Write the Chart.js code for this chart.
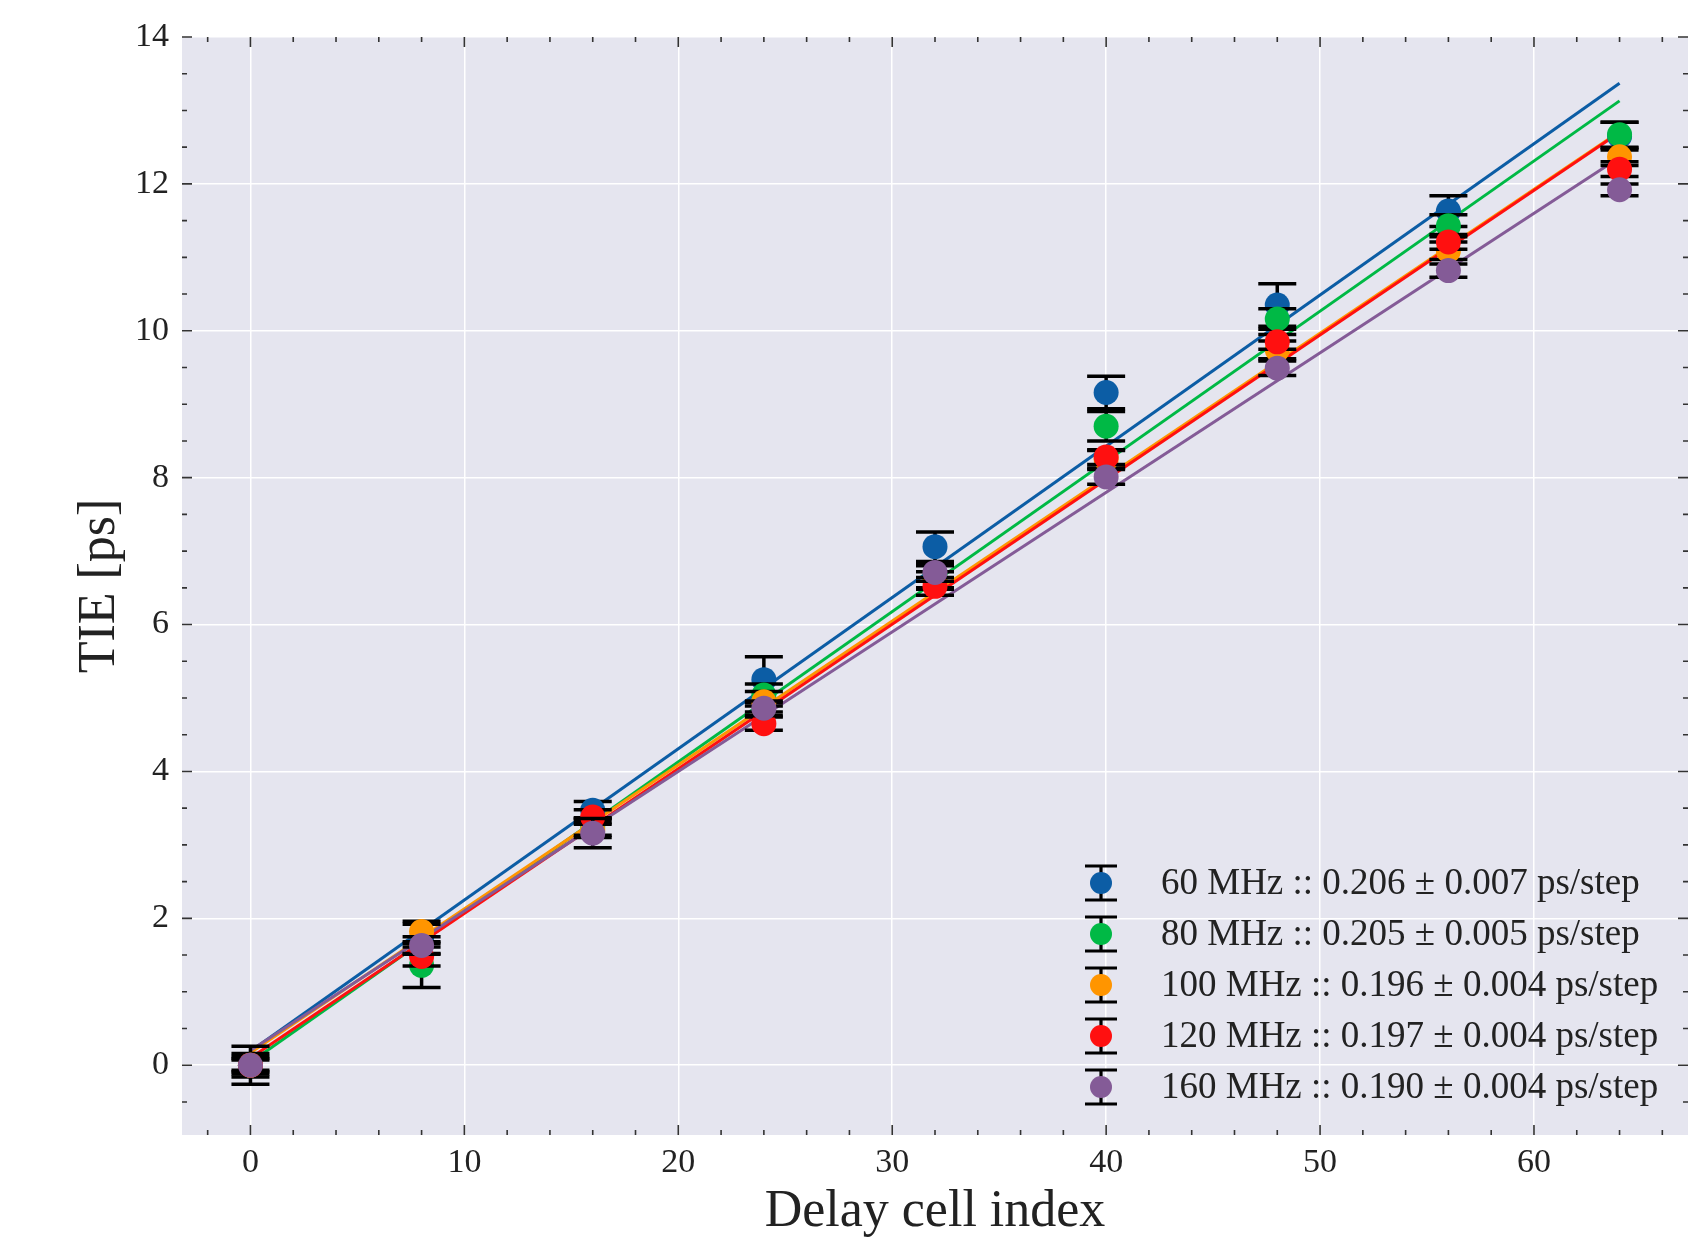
<!DOCTYPE html>
<html>
<head>
<meta charset="utf-8">
<script src="https://cdn.jsdelivr.net/npm/chart.js@4.4.1/dist/chart.umd.min.js"></script>
<style>
html, body { margin: 0; padding: 0; background: #fff; }
#contenedor { width: 1708px; height: 1238px; }
</style>
</head>
<body>
<div id="contenedor"><canvas id="graficoTIE"></canvas></div>
<script>
// Indices de celda medidos
const celdas = [0, 8, 16, 24, 32, 40, 48, 56, 64];

// TIE medido [ps] por frecuencia
const tie60  = [0.00, 1.72, 3.47, 5.25, 7.06, 9.16, 10.35, 11.63, 12.65];
const tie80  = [0.00, 1.36, 3.25, 5.04, 6.65, 8.70, 10.16, 11.43, 12.67];
const tie100 = [0.00, 1.82, 3.20, 4.95, 6.60, 8.25, 9.74, 11.09, 12.37];
const tie120 = [0.00, 1.48, 3.38, 4.65, 6.52, 8.28, 9.85, 11.21, 12.20];
const tie160 = [0.00, 1.63, 3.16, 4.86, 6.71, 8.01, 9.49, 10.82, 11.92];

// Barras de error [ps]
const err60  = [0.26, 0.20, 0.12, 0.31, 0.20, 0.22, 0.29, 0.21, 0.19];
const err80  = [0.16, 0.30, 0.12, 0.15, 0.15, 0.20, 0.14, 0.15, 0.17];
const err100 = [0.12, 0.14, 0.10, 0.14, 0.12, 0.12, 0.12, 0.12, 0.12];
const err120 = [0.09, 0.13, 0.10, 0.09, 0.12, 0.10, 0.10, 0.10, 0.10];
const err160 = [0.07, 0.12, 0.20, 0.10, 0.12, 0.10, 0.10, 0.09, 0.08];

// Rectas de ajuste: valor en la celda 0 y en la celda 64
const ajusteX = [0, 64];
const ajusteInicio = [0.19, 0.04, 0.17, 0.10, 0.20];
const ajusteFin    = [13.37, 13.13, 12.71, 12.70, 12.36];

const etiquetas = [
    '60 MHz :: 0.206 \u00b1 0.007 ps/step',
    '80 MHz :: 0.205 \u00b1 0.005 ps/step',
    '100 MHz :: 0.196 \u00b1 0.004 ps/step',
    '120 MHz :: 0.197 \u00b1 0.004 ps/step',
    '160 MHz :: 0.190 \u00b1 0.004 ps/step'
];
const colores = ['#0C5DA5', '#00B945', '#FF9500', '#FF1010', '#845B97'];

// Ticks de los ejes
const ticksX = [0, 10, 20, 30, 40, 50, 60];
const ticksY = [0, 2, 4, 6, 8, 10, 12, 14];

const series = [tie60, tie80, tie100, tie120, tie160];
const errores = [err60, err80, err100, err120, err160];

const fuente = '"Liberation Serif", "DejaVu Serif", serif';
const colorTexto = '#222222';

let datasets = [];
// rectas primero (quedan debajo)
series.forEach((s, i) => {
    datasets.push({
        type: 'line',
        label: 'ajuste ' + etiquetas[i],
        data: ajusteX.map((x, k) => ({ x: x, y: k == 0 ? ajusteInicio[i] : ajusteFin[i] })),
        borderColor: colores[i],
        borderWidth: 3,
        pointRadius: 0,
        fill: false,
        order: 20 - i
    });
});
// puntos medidos
series.forEach((s, i) => {
    datasets.push({
        type: 'scatter',
        label: etiquetas[i],
        data: celdas.map((c, k) => ({ x: c, y: s[k] })),
        errores: errores[i],
        backgroundColor: colores[i],
        borderColor: colores[i],
        borderWidth: 0,
        pointRadius: 12.5,
        pointHoverRadius: 12.5,
        order: 5 - i
    });
});

// fondo del area de grafico
const fondoPlugin = {
    id: 'fondo',
    beforeDraw(chart) {
        const { ctx, chartArea: a } = chart;
        ctx.save();
        ctx.fillStyle = '#E5E5EF';
        ctx.fillRect(a.left, a.top, a.right - a.left, a.bottom - a.top);
        ctx.restore();
    }
};

// barras de error, dibujadas antes de los puntos de cada serie
const erroresPlugin = {
    id: 'barrasError',
    beforeDatasetDraw(chart, args) {
        const ds = chart.data.datasets[args.index];
        if (!ds.errores) return;
        const { ctx, scales } = chart;
        ctx.save();
        ctx.strokeStyle = '#000';
        ctx.lineWidth = 3.5;
        ds.data.forEach((p, k) => {
            const px = scales.x.getPixelForValue(p.x);
            const y1 = scales.y.getPixelForValue(p.y - ds.errores[k]);
            const y2 = scales.y.getPixelForValue(p.y + ds.errores[k]);
            ctx.beginPath();
            ctx.moveTo(px, y1); ctx.lineTo(px, y2);
            ctx.moveTo(px - 19, y1); ctx.lineTo(px + 19, y1);
            ctx.moveTo(px - 19, y2); ctx.lineTo(px + 19, y2);
            ctx.stroke();
        });
        ctx.restore();
    }
};

// ticks hacia dentro en los cuatro lados + leyenda
const marcasPlugin = {
    id: 'marcas',
    afterDraw(chart) {
        const { ctx, chartArea: a, scales } = chart;
        ctx.save();
        ctx.strokeStyle = '#333';
        ctx.lineWidth = 1.6;
        ctx.beginPath();
        for (let v = -2; v <= 66; v += 2) {
            const px = scales.x.getPixelForValue(v);
            const largo = v % 10 == 0 ? 10 : 5;
            ctx.moveTo(px, a.bottom); ctx.lineTo(px, a.bottom - largo);
            ctx.moveTo(px, a.top); ctx.lineTo(px, a.top + largo);
        }
        for (let v = -0.5; v <= 14; v += 0.5) {
            const py = scales.y.getPixelForValue(v);
            const largo = v % 2 == 0 ? 10 : 5;
            ctx.moveTo(a.left, py); ctx.lineTo(a.left + largo, py);
            ctx.moveTo(a.right, py); ctx.lineTo(a.right - largo, py);
        }
        ctx.stroke();

        // leyenda
        const lx = a.right - 587;
        const ly = a.bottom - 252;
        ctx.font = '37px ' + fuente;
        ctx.textBaseline = 'middle';
        ctx.textAlign = 'left';
        etiquetas.forEach((t, i) => {
            const cy = ly + i * 51;
            ctx.strokeStyle = '#000';
            ctx.lineWidth = 3.2;
            ctx.beginPath();
            ctx.moveTo(lx, cy - 17); ctx.lineTo(lx, cy + 17);
            ctx.moveTo(lx - 16, cy - 17); ctx.lineTo(lx + 16, cy - 17);
            ctx.moveTo(lx - 16, cy + 17); ctx.lineTo(lx + 16, cy + 17);
            ctx.stroke();
            ctx.fillStyle = colores[i];
            ctx.beginPath();
            ctx.arc(lx, cy, 11, 0, Math.PI * 2);
            ctx.fill();
            ctx.fillStyle = colorTexto;
            ctx.fillText(t, lx + 60, cy + 1);
        });
        ctx.restore();
    }
};

document.addEventListener('DOMContentLoaded', () => {
    const ctx = document.getElementById('graficoTIE').getContext('2d');
    new Chart(ctx, {
        type: 'scatter',
        data: { datasets: datasets },
        plugins: [fondoPlugin, erroresPlugin, marcasPlugin],
        options: {
            responsive: true,
            maintainAspectRatio: false,
            animation: false,
            layout: { padding: { top: 37, right: 20, left: 0, bottom: 0 } },
            plugins: {
                legend: { display: false },
                tooltip: { enabled: false }
            },
            scales: {
                x: {
                    type: 'linear',
                    min: -3.2,
                    max: 67.2,
                    afterFit: (s) => { s.height = 103; },
                    afterBuildTicks: (s) => { s.ticks = ticksX.map(v => ({ value: v })); },
                    grid: { color: '#ffffff', lineWidth: 1.5, drawTicks: false },
                    border: { display: false },
                    ticks: {
                        autoSkip: false,
                        maxRotation: 0,
                        padding: 8,
                        color: colorTexto,
                        font: { family: fuente, size: 34 }
                    },
                    title: {
                        display: true,
                        text: 'Delay cell index',
                        color: colorTexto,
                        font: { family: fuente, size: 52, lineHeight: 1 },
                        padding: { top: 0, bottom: 0 }
                    }
                },
                y: {
                    type: 'linear',
                    min: -0.95,
                    max: 14,
                    afterFit: (s) => { s.width = 182; },
                    afterBuildTicks: (s) => { s.ticks = ticksY.map(v => ({ value: v })); },
                    grid: { color: '#ffffff', lineWidth: 1.5, drawTicks: false },
                    border: { display: false },
                    ticks: {
                        autoSkip: false,
                        padding: 13,
                        color: colorTexto,
                        font: { family: fuente, size: 34 }
                    },
                    title: {
                        display: true,
                        text: 'TIE [ps]',
                        color: colorTexto,
                        font: { family: fuente, size: 52, lineHeight: 1 },
                        padding: { top: 74, bottom: 0 }
                    }
                }
            }
        }
    });
});
</script>
</body>
</html>
